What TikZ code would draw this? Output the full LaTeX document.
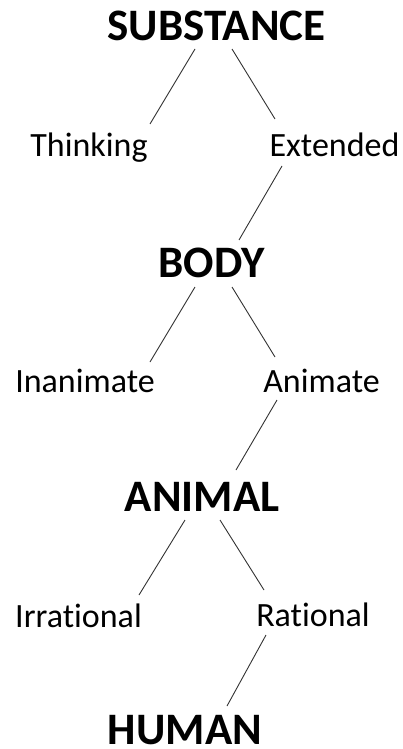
\documentclass[tikz,border=0pt]{standalone}
\usepackage{fontspec}
\setmainfont{Carlito}[Ligatures={NoCommon}]
\usetikzlibrary{calc}
\begin{document}
\begin{tikzpicture}[x=1pt,y=-1pt,
  big/.style={inner sep=0pt,anchor=base,font=\fontsize{45}{50}\selectfont\bfseries},
  small/.style={inner sep=0pt,anchor=base,font=\fontsize{34}{40}\selectfont},
  link/.style={draw=black!80,line width=0.9pt}]
\useasboundingbox (0,0) rectangle (402,749);
\node[big] (sub) at (216.5,41) {SUBSTANCE};
\node[small] (think) at (89,157) {Thinking};
\node[small] (ext) at (334.5,157) {Extended};
\node[big] (body) at (211.5,277) {BODY};
\node[small] (inan) at (85,392) {Inanimate};
\node[small] (anim) at (321.5,392) {Animate};
\node[big] (animal) at (202,511) {ANIMAL};
\node[small] (irr) at (78.5,627) {Irrational};
\node[small] (rat) at (313,626) {Rational};
\node[big] (human) at (185,744) {HUMAN};
\draw[link] ($(sub.base)+(-21.5,8)$) -- ($(think.base)+(61,-33)$);
\draw[link] ($(sub.base)+(15.5,8)$) -- ($(ext.base)+(-59.5,-38)$);
\draw[link] ($(ext.base)+(-52.5,9)$) -- ($(body.base)+(27.5,-37)$);
\draw[link] ($(body.base)+(-16.5,10)$) -- ($(inan.base)+(65,-30)$);
\draw[link] ($(body.base)+(20.5,10)$) -- ($(anim.base)+(-46.5,-35)$);
\draw[link] ($(anim.base)+(-44.5,8)$) -- ($(animal.base)+(34,-41)$);
\draw[link] ($(animal.base)+(-17,9)$) -- ($(irr.base)+(60.5,-32)$);
\draw[link] ($(animal.base)+(18,9)$) -- ($(rat.base)+(-49,-36)$);
\draw[link] ($(rat.base)+(-47,9)$) -- ($(human.base)+(42,-38)$);
\end{tikzpicture}
\end{document}
